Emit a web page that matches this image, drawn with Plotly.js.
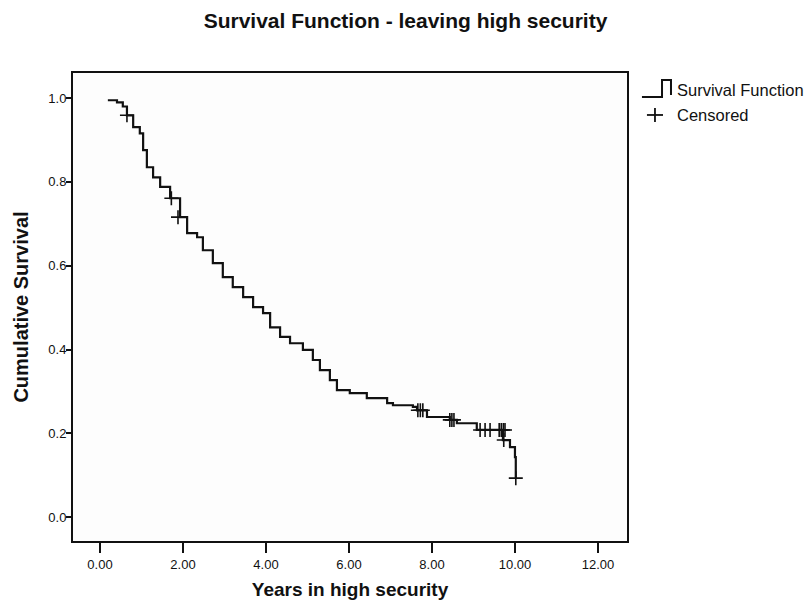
<!DOCTYPE html>
<html>
<head>
<meta charset="utf-8">
<script src="https://cdn.plot.ly/plotly-3.0.1.min.js"></script>
<style>
  html, body { margin: 0; padding: 0; background: #ffffff; }
  #chart { width: 811px; height: 611px; }
</style>
</head>
<body>
<div id="chart"></div>
<script>
// Kaplan-Meier estimate: time in years at each step and survival after that step
const stepYears = [0.19, 0.41, 0.55, 0.65, 0.80, 0.96, 1.04, 1.13, 1.28, 1.45, 1.69, 1.93,
  2.10, 2.34, 2.48, 2.72, 2.96, 3.20, 3.45, 3.69, 3.93, 4.10, 4.34, 4.58, 4.89, 5.13,
  5.30, 5.54, 5.71, 6.02, 6.43, 6.92, 7.06, 7.54, 7.64, 7.88, 8.43, 8.60, 9.08, 9.71,
  9.88, 10.00, 10.02];
const stepSurvival = [0.995, 0.990, 0.980, 0.959, 0.931, 0.916, 0.876, 0.835, 0.811, 0.788,
  0.761, 0.716, 0.678, 0.668, 0.637, 0.606, 0.573, 0.549, 0.525, 0.501, 0.487, 0.453,
  0.430, 0.415, 0.399, 0.375, 0.351, 0.327, 0.303, 0.296, 0.284, 0.272, 0.267, 0.263,
  0.255, 0.239, 0.232, 0.224, 0.208, 0.184, 0.167, 0.143, 0.093];

// Censored cases (time in years, survival at that time)
const censoredYears = [0.65, 1.72, 1.88, 7.66, 7.72, 7.78, 8.43, 8.48, 8.53, 9.16, 9.28, 9.40,
  9.62, 9.67, 9.72, 9.76, 9.73, 10.02];
const censoredSurvival = [0.959, 0.761, 0.716, 0.255, 0.255, 0.255, 0.232, 0.232, 0.232,
  0.208, 0.208, 0.208, 0.208, 0.208, 0.208, 0.208, 0.184, 0.093];

const xTickVals = [0, 2, 4, 6, 8, 10, 12];
const xTickText = ['0.00', '2.00', '4.00', '6.00', '8.00', '10.00', '12.00'];
const yTickVals = [0, 0.2, 0.4, 0.6, 0.8, 1.0];
const yTickText = ['0.0', '0.2', '0.4', '0.6', '0.8', '1.0'];

const legendLabels = ['Survival Function', 'Censored'];

const FONT = 'Liberation Sans, Arial, sans-serif';
const INK = '#111111';

const traces = [
  {
    x: stepYears, y: stepSurvival, type: 'scatter', mode: 'lines',
    line: { shape: 'hv', color: INK, width: 2.2 },
    name: legendLabels[0], showlegend: false
  },
  {
    x: censoredYears, y: censoredSurvival, type: 'scatter', mode: 'markers',
    marker: { symbol: 'cross-thin', size: 10, line: { color: INK, width: 1.6 } },
    name: legendLabels[1], showlegend: false
  }
];

const layout = {
  width: 811, height: 611,
  margin: { l: 73, r: 184, t: 73, b: 70 },
  paper_bgcolor: '#ffffff', plot_bgcolor: '#fdfdfd',
  font: { family: FONT, color: INK, size: 13 },
  title: {
    text: '<b>Survival Function - leaving high security</b>',
    font: { family: FONT, size: 21, color: INK },
    xref: 'container', x: 0.5, xanchor: 'center',
    yref: 'container', y: 0.967, yanchor: 'middle'
  },
  xaxis: {
    range: [-0.65, 12.7], tickvals: xTickVals, ticktext: xTickText,
    ticks: 'outside', ticklen: 10, tickwidth: 2, tickcolor: INK,
    showline: true, linecolor: INK, linewidth: 2, mirror: true,
    showgrid: false, zeroline: false,
    tickfont: { family: FONT, size: 13 },
    title: { text: '<b>Years in high security</b>', font: { family: FONT, size: 19 }, standoff: 12 }
  },
  yaxis: {
    range: [-0.057, 1.06], tickvals: yTickVals, ticktext: yTickText,
    ticks: 'outside', ticklen: 5, tickwidth: 2, tickcolor: INK,
    ticklabelstandoff: -3,
    showline: true, linecolor: INK, linewidth: 2, mirror: true,
    showgrid: false, zeroline: false,
    tickfont: { family: FONT, size: 13 },
    title: { text: '<b>Cumulative Survival</b>', font: { family: FONT, size: 20 }, standoff: 14 }
  },
  showlegend: false,
  // Hand-drawn legend: step glyph for the survival line, cross for censored cases
  shapes: [
    { type: 'path', xref: 'paper', yref: 'paper',
      path: 'M 1.027 0.9487 L 1.0632 0.9487 L 1.0632 0.985 L 1.0794 0.985 L 1.0794 0.953',
      line: { color: INK, width: 2 } },
    { type: 'line', xref: 'paper', yref: 'paper', x0: 1.036, x1: 1.065, y0: 0.9103, y1: 0.9103,
      line: { color: INK, width: 1.8 } },
    { type: 'line', xref: 'paper', yref: 'paper', x0: 1.0505, x1: 1.0505, y0: 0.8953, y1: 0.9252,
      line: { color: INK, width: 1.8 } }
  ],
  annotations: [
    { xref: 'paper', yref: 'paper', x: 1.0866, y: 0.9637, xanchor: 'left', yanchor: 'middle',
      text: legendLabels[0], showarrow: false, font: { family: FONT, size: 16.5 } },
    { xref: 'paper', yref: 'paper', x: 1.0866, y: 0.9103, xanchor: 'left', yanchor: 'middle',
      text: legendLabels[1], showarrow: false, font: { family: FONT, size: 16.5 } }
  ]
};

Plotly.newPlot('chart', traces, layout, { displayModeBar: false, staticPlot: true });
</script>
</body>
</html>
